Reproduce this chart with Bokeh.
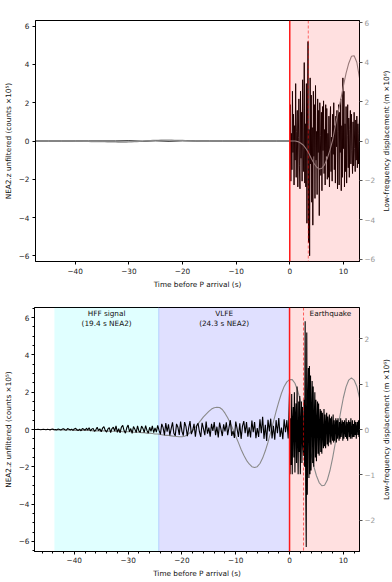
import numpy as np
from bokeh.plotting import figure
from bokeh.models import (Range1d, LinearAxis, SingleIntervalTicker, BoxAnnotation,
                          Span, CustomJSTickFormatter, FixedTicker)
from bokeh.layouts import column, row
from bokeh.core.properties import value
from bokeh.embed import file_html
from bokeh.resources import INLINE

FONT = "DejaVu Sans"

# ---------------- data ----------------
# Top panel: unfiltered trace (counts x1e5)
top_pre_start, top_pre_step = -47.5, 2.5
top_pre_vals = [0, 0, 0, 0, 0, 0, 0, 0.01, -0.01, 0.01, -0.01, 0.01, 0, 0, 0, 0, 0, 0, 0]
top_post_start, top_post_step = 0.0, 0.1
top_post_vals = [0.0,
    1.9, -2.1, 0.4, -1.5, 2.6, -0.6, 1.4, -2.3, 0.8, -1.0,
    3.0, -1.9, 0.5, 1.6, -2.4, 0.2, 2.2, -1.3, -2.5, 2.6,
    -0.9, 1.5, -2.1, 3.2, -0.4, -1.6, 4.1, -2.2, 0.9, -2.4,
    3.0, -4.3, 1.1, 5.2, -5.3, 0.6, -6.0, 3.3, -1.2, 2.4,
    -3.2, 0.7, -4.4, 2.6, -0.8, 1.9, -3.0, 2.9, -1.0, 0.5,
    -2.8, 2.2, -0.6, 1.6, -3.9, 2.0, 0.3, -1.8, 1.5, -2.6,
    1.8, -0.5, 2.1, -1.7, 0.6, -2.3, 1.9, -0.8, 1.7, -2.0,
    0.4, -1.9, 1.3, -2.4, 0.9, 1.8, -1.6, 0.2, -2.1, 1.4,
    -0.7, 2.0, -1.5, 0.8, -2.2, 1.3, -0.3, 1.6, -2.5, 0.5,
    1.9, -2.3, 1.5, -0.6, 2.2, -2.6, 0.8, -1.9, 3.3, -0.4,
    2.6, -2.4, 0.9, -1.6, 1.8, -2.2, 0.3, 1.9, -1.4, 1.2,
    -1.9, 0.6, 1.6, -1.2, 1.4, -0.5, -1.7, 1.0, -1.3, 1.5,
    -0.4, -1.6, 1.1, -1.0, 1.3, -1.4, 0.9, -1.2, 0.4, 1.2]

# Top panel: low-frequency displacement (m x1e6), every 0.5 s from -47.5 s
lf_start, lf_step = -47.5, 0.5
top_lf_vals = [
    0, 0, 0, 0, 0, 0, 0, 0, 0, 0,
    0, 0, 0, 0, 0, -0.01, -0.01, -0.01, -0.02, -0.02,
    -0.02, -0.03, -0.03, -0.03, -0.04, -0.04, -0.04, -0.05, -0.05, -0.05,
    -0.05, -0.06, -0.06, -0.06, -0.06, -0.05, -0.05, -0.04, -0.03, -0.02,
    -0.01, 0, 0.01, 0.02, 0.03, 0.04, 0.04, 0.05, 0.05, 0.05,
    0.05, 0.05, 0.04, 0.04, 0.03, 0.03, 0.02, 0.01, 0.01, 0,
    0, 0, -0.01, -0.01, -0.01, -0.01, 0, 0, 0, 0,
    0, 0, 0, 0, 0, 0, 0, 0, 0, 0,
    0, 0, 0, 0, 0, 0, 0, 0, 0, 0,
    0, 0, 0, 0, 0, 0, 0, 0, -0.03, -0.1,
    -0.2, -0.38, -0.6, -0.88, -1.13, -1.32, -1.42, -1.38, -1.2, -0.88,
    -0.45, 0.05, 0.8, 1.45, 2.1, 2.8, 3.45, 3.95, 4.3, 4.33,
    4.0, 3.2]

# Bottom panel: unfiltered trace (counts x1e5)
bot_pre_start, bot_pre_step = -47.5, 0.25
bot_pre_vals = [
    0, 0, 0, 0.01, 0, -0.01, 0, 0.01, 0, -0.01,
    0.01, 0, -0.02, 0.01, 0.02, -0.01, 0, -0.02, 0.03, 0,
    -0.03, 0.02, 0.04, -0.01, -0.04, 0.05, 0.01, -0.03, 0.02, -0.05,
    0.03, 0.06, -0.02, -0.05, 0.02, -0.07, 0.05, 0.01, -0.04, 0.07,
    -0.03, 0.09, -0.08, 0.02, 0.06, -0.1, -0.02, 0.12, -0.06, 0.04,
    -0.12, 0.07, 0.15, -0.05, -0.14, 0.03, 0.1, -0.16, 0.05, 0.12,
    -0.08, 0.2, -0.15, 0.04, -0.18, 0.13, 0.22, -0.06, -0.2, 0.09,
    0.24, -0.12, 0.05, -0.21, 0.16, 0.02, -0.17, 0.2, -0.08, -0.15,
    0.18, 0.06, -0.16, 0.21, -0.05, -0.2, 0.12, -0.1, 0.19, -0.17,
    0.08, -0.14, 0.22, -0.05, -0.26, 0.3, 0.1, -0.3, 0.35, -0.12,
    0.28, -0.32, 0.05, 0.38, -0.2, -0.34, 0.3, 0.12, -0.29, 0.42,
    -0.1, -0.33, 0.4, 0.15, -0.36, 0.08, 0.45, -0.25, -0.05, 0.3,
    -0.38, 0.2, 0.33, -0.12, -0.4, 0.36, 0.05, -0.3, 0.42, -0.22,
    0.1, -0.38, 0.3, -0.08, 0.4, -0.31, 0.15, -0.42, 0.37, 0.02,
    -0.35, 0.28, -0.1, 0.39, -0.3, 0.12, 0.5, -0.34, -0.08, -0.45,
    0.42, 0.05, -0.4, 0.33, -0.5, 0.18, 0.45, -0.2, 0.4, -0.38,
    0.12, -0.42, 0.48, -0.15, 0.4, -0.46, 0.08, -0.4, 0.55, -0.2,
    0.68, -0.5, 0.25, -0.62, 0.52, -0.1, 0.58, -0.48, 0.2, -0.55,
    0.5, -0.2, 0.62, -0.4, 0.1, -0.52, 0.55, -0.15, 0.5, -0.48]
bot_post_start, bot_post_step = 0.0, 0.1
bot_post_vals = [
    2.0, -2.4, 0.6, -1.9, 1.9, -2.4, 0.4, 1.2, -1.5, 2.0,
    -2.3, 0.7, 1.4, -1.8, 2.3, -0.5, -2.4, 1.5, -1.2, 1.8,
    -2.4, 0.3, 1.5, -1.8, 1.2, -0.6, -1.4, 1.6, -2.0, 5.8,
    -3.0, -6.3, 5.2, -3.5, 1.2, 3.3, -2.6, 3.4, -2.4, 2.9,
    -2.2, 0.8, 2.6, -1.8, 2.3, -2.0, 0.5, 2.0, -1.5, 1.6,
    -1.7, 0.4, 1.5, -1.3, 1.4, -1.4, 0.2, 1.1, -1.2, 1.0,
    -1.3, 0.9, -0.3, -1.0, 1.1, -0.9, 0.8, -1.0, 0.3, 0.9,
    -0.8, 0.7, -0.9, 0.2, 0.8, -0.7, 0.6, -0.8, 0.7, -0.2,
    -0.6, 0.8, -0.7, 0.5, -0.6, 0.1, 0.6, -0.7, 0.5, -0.5,
    0.6, -0.2, -0.6, 0.4, -0.5, 0.6, -0.4, 0.1, 0.5, -0.6,
    0.4, -0.5, 0.5, -0.1, -0.4, 0.6, -0.5, 0.4, -0.6, 0.2,
    0.5, -0.4, 0.4, -0.5, 0.6, -0.1, -0.5, 0.5, -0.4, 0.3,
    -0.4, 0.5, -0.3, 0.4, -0.5, 0.1, 0.4, -0.3, 0.5, -0.4, 0.3]

bot_lf_vals = [
    0, 0, 0, 0, 0, 0, 0, 0, -0.01, -0.01,
    -0.01, -0.01, -0.01, -0.01, -0.01, -0.02, -0.02, -0.02, -0.02, -0.02,
    -0.02, -0.02, -0.03, -0.03, -0.03, -0.03, -0.03, -0.03, -0.04, -0.04,
    -0.04, -0.04, -0.04, -0.05, -0.05, -0.05, -0.05, -0.06, -0.06, -0.06,
    -0.07, -0.07, -0.08, -0.08, -0.09, -0.1, -0.1, -0.11, -0.12, -0.13,
    -0.13, -0.14, -0.15, -0.155, -0.16, -0.16, -0.15, -0.12, -0.07, -0.02,
    0.05, 0.13, 0.2, 0.28, 0.34, 0.4, 0.45, 0.48, 0.49, 0.485,
    0.44, 0.36, 0.26, 0.14, 0.0, -0.15, -0.29, -0.44, -0.57, -0.68,
    -0.76, -0.82, -0.84, -0.82, -0.75, -0.63, -0.47, -0.28, -0.06, 0.17,
    0.4, 0.61, 0.8, 0.95, 1.05, 1.1, 1.1, 1.02, 0.86, 0.64,
    0.37, 0.07, -0.24, -0.54, -0.81, -1.02, -1.17, -1.24, -1.23, -1.12,
    -0.91, -0.63, -0.3, 0.05, 0.39, 0.7, 0.94, 1.09, 1.14, 1.09,
    0.95, 0.7]

# Annotations
hff_span = (-43.7, -24.3)
vlfe_span = (-24.3, 0.0)
p_arrival = 0.0
top_dashed = 3.45
bot_dashed = 2.6
region_labels = ["HFF signal\n(19.4 s NEA2)", "VLFE\n(24.3 s NEA2)", "Earthquake"]
region_label_x = [-34.0, -12.15, 7.6]

x_label = "Time before P arrival (s)"
y_label = "NEA2.z unfiltered (counts ×10⁵)"
y2_label = "Low-frequency displacement (m ×10⁶)"

X_RANGE = (-47.4, 13.0)
LABEL_W = 14


def times(start, step, n):
    return start + step * np.arange(n)


minus_fmt = "return (tick < 0 ? '\u2212' : '') + Math.abs(tick).toString();"


def make_fig(height, b_top, b_bot, ylim, y2lim, y2_interval, minor):
    p = figure(width=392 - LABEL_W, height=height, output_backend="svg", toolbar_location=None,
               x_range=Range1d(*X_RANGE), y_range=Range1d(-ylim, ylim),
               min_border_left=32, min_border_right=33 - LABEL_W,
               min_border_top=b_top, min_border_bottom=b_bot)
    p.extra_y_ranges = {"lf": Range1d(-y2lim, y2lim)}
    p.xgrid.visible = False
    p.ygrid.visible = False
    p.outline_line_color = "black"
    p.outline_line_width = 1
    p.outline_line_alpha = 1
    p.background_fill_color = "white"
    p.border_fill_color = "white"

    p.xaxis.ticker = SingleIntervalTicker(interval=10, num_minor_ticks=5)
    p.yaxis.ticker = SingleIntervalTicker(interval=2, num_minor_ticks=4)
    for ax in (p.xaxis[0], p.yaxis[0]):
        ax.formatter = CustomJSTickFormatter(code=minus_fmt)
        ax.major_label_text_font = FONT
        ax.major_label_text_font_size = "7.3px"
        ax.major_label_text_color = "#222222"
        ax.axis_label_text_font = FONT
        ax.axis_label_text_font_size = "7.3px"
        ax.axis_label_text_font_style = "normal"
        ax.axis_label_text_color = "#111111"
        ax.axis_line_color = "black"
        ax.major_tick_line_color = "black"
        ax.major_tick_out = 3
        ax.major_tick_in = 0
        ax.major_label_standoff = 2
        ax.axis_label_standoff = 3
        if minor:
            ax.minor_tick_line_color = "black"
            ax.minor_tick_out = 2
            ax.minor_tick_in = 0
        else:
            ax.minor_tick_line_color = None
    p.xaxis.axis_label = x_label
    p.yaxis.axis_label = y_label

    ax2 = LinearAxis(y_range_name="lf",
                     ticker=SingleIntervalTicker(interval=y2_interval, num_minor_ticks=0),
                     formatter=CustomJSTickFormatter(code=minus_fmt))
    ax2.major_label_text_font = FONT
    ax2.major_label_text_font_size = "7.3px"
    ax2.major_label_text_color = "#999999"
    ax2.axis_line_color = "black"
    ax2.major_tick_line_color = "#555555"
    ax2.major_tick_out = 3
    ax2.major_tick_in = 0
    ax2.minor_tick_line_color = None
    ax2.major_label_standoff = 2
    p.add_layout(ax2, "right")
    return p


def make_label_fig(height, b_top, b_bot):
    # narrow strip holding the right-hand axis title, which reads bottom-to-top
    q = figure(width=LABEL_W, height=height, output_backend="svg", toolbar_location=None,
               x_range=Range1d(0, 1), y_range=Range1d(0, 1),
               x_axis_location=None, y_axis_location=None,
               min_border_left=0, min_border_right=0,
               min_border_top=b_top, min_border_bottom=b_bot)
    q.outline_line_color = None
    q.xgrid.visible = False
    q.ygrid.visible = False
    q.background_fill_color = None
    q.border_fill_color = "white"
    ax = LinearAxis(ticker=FixedTicker(ticks=[]), axis_label=y2_label)
    ax.axis_line_color = None
    ax.major_tick_line_color = None
    ax.minor_tick_line_color = None
    ax.major_label_text_font_size = "0px"
    ax.axis_label_standoff = 0
    ax.axis_label_text_font = FONT
    ax.axis_label_text_font_size = "7.3px"
    ax.axis_label_text_font_style = "normal"
    ax.axis_label_text_color = "#111111"
    q.add_layout(ax, "left")
    return q


# ---------------- top panel ----------------
p1 = make_fig(291, 20, 28, 6.3, 6.12, 2, False)
t1 = np.concatenate([times(top_pre_start, top_pre_step, len(top_pre_vals)),
                     times(top_post_start, top_post_step, len(top_post_vals))])
y1 = np.concatenate([top_pre_vals, top_post_vals])
p1.line(t1, y1, line_color="black", line_width=1.0)
p1.line(times(lf_start, lf_step, len(top_lf_vals)), top_lf_vals, y_range_name="lf",
        line_color="#8a8a8a", line_width=1.1)
p1.add_layout(Span(location=top_dashed, dimension="height", line_color="red",
                   line_alpha=0.55, line_width=1, line_dash="3 2"))
p1.add_layout(BoxAnnotation(left=p_arrival, fill_color="red", fill_alpha=0.12,
                            line_color=None, level="overlay"))
p1.add_layout(Span(location=p_arrival, dimension="height", line_color="#ff1a1a",
                   line_width=1.5, level="overlay"))
q1 = make_label_fig(291, 20, 28)

# ---------------- bottom panel ----------------
p2 = make_fig(291, 16, 31, 6.54, 2.69, 1, True)
p2.add_layout(BoxAnnotation(left=hff_span[0], right=hff_span[1], fill_color="cyan",
                            fill_alpha=0.12, line_color=None, level="underlay"))
p2.add_layout(BoxAnnotation(left=vlfe_span[0], right=vlfe_span[1], fill_color="blue",
                            fill_alpha=0.12, line_color=None, level="underlay"))
p2.add_layout(BoxAnnotation(left=p_arrival, fill_color="red", fill_alpha=0.12,
                            line_color=None, level="underlay"))
p2.add_layout(Span(location=hff_span[1], dimension="height", line_color="#a8c8ff",
                   line_width=0.8, level="underlay"))
p2.line(times(lf_start, lf_step, len(bot_lf_vals)), bot_lf_vals, y_range_name="lf",
        line_color="#8a8a8a", line_width=1.1)
t2 = np.concatenate([times(bot_pre_start, bot_pre_step, len(bot_pre_vals)),
                     times(bot_post_start, bot_post_step, len(bot_post_vals))])
y2 = np.concatenate([bot_pre_vals, bot_post_vals])
p2.line(t2, y2, line_color="black", line_width=1.1)
p2.add_layout(Span(location=bot_dashed, dimension="height", line_color="red",
                   line_alpha=0.6, line_width=1, line_dash="3 2"))
p2.add_layout(Span(location=p_arrival, dimension="height", line_color="#ff1a1a",
                   line_width=1.5, level="overlay"))
p2.text(x=region_label_x, y=[6.54] * 3, text=region_labels, text_align="center",
        text_baseline="top", y_offset=1, text_font=value(FONT), text_font_size="7.3px",
        text_color="#111111", text_line_height=1.15)
q2 = make_label_fig(291, 16, 31)

layout = column(row(p1, q1, spacing=0), row(p2, q2, spacing=0), spacing=0)
open("out.html", "w").write(file_html(layout, INLINE))
